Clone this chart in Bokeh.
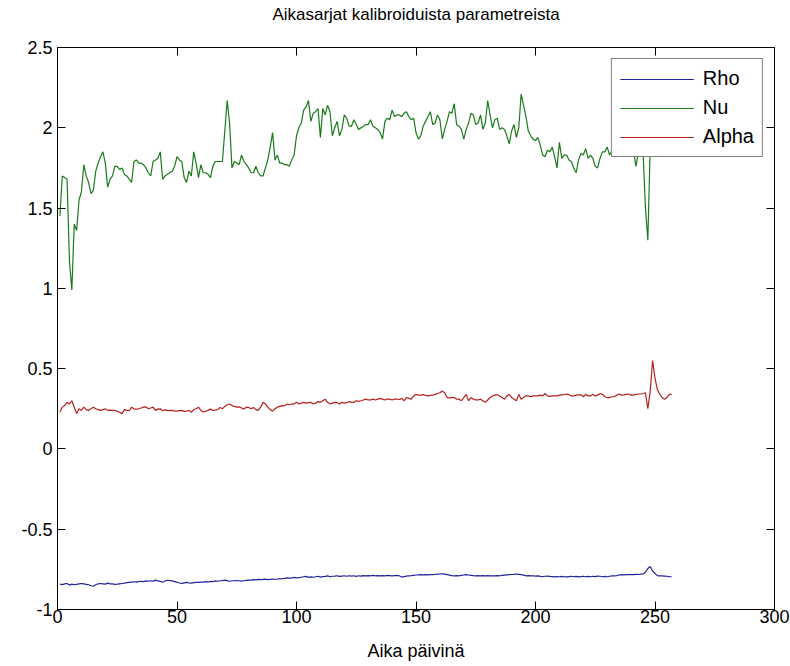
from bokeh.plotting import figure
from bokeh.models import Range1d, FixedTicker, LinearAxis, Legend, LegendItem
from bokeh.embed import file_html
from bokeh.resources import INLINE

# Daily calibrated parameter values
days = list(range(1, 258))

rho = [
    -0.842, -0.845, -0.840, -0.838, -0.848, -0.842, -0.846, -0.843, -0.840, -0.838,
    -0.840, -0.843, -0.846, -0.852, -0.855, -0.846, -0.840, -0.838, -0.840, -0.842,
    -0.836, -0.840, -0.841, -0.843, -0.842, -0.840, -0.838, -0.836, -0.833, -0.831,
    -0.829, -0.827, -0.830, -0.826, -0.824, -0.826, -0.822, -0.824, -0.821, -0.823,
    -0.817, -0.822, -0.825, -0.830, -0.822, -0.818, -0.820, -0.822, -0.826, -0.830,
    -0.835, -0.837, -0.834, -0.831, -0.835, -0.836, -0.833, -0.831, -0.831, -0.829,
    -0.830, -0.826, -0.829, -0.825, -0.826, -0.822, -0.824, -0.821, -0.820, -0.817,
    -0.820, -0.824, -0.821, -0.821, -0.820, -0.821, -0.823, -0.821, -0.819, -0.817,
    -0.817, -0.814, -0.815, -0.812, -0.814, -0.812, -0.811, -0.814, -0.812, -0.810,
    -0.813, -0.810, -0.809, -0.808, -0.806, -0.803, -0.805, -0.804, -0.800, -0.803,
    -0.802, -0.799, -0.796, -0.794, -0.800, -0.797, -0.799, -0.796, -0.793, -0.798,
    -0.795, -0.794, -0.791, -0.796, -0.793, -0.792, -0.790, -0.794, -0.792, -0.790,
    -0.793, -0.790, -0.792, -0.790, -0.794, -0.790, -0.792, -0.789, -0.791, -0.789,
    -0.790, -0.788, -0.790, -0.789, -0.791, -0.789, -0.790, -0.788, -0.789, -0.790,
    -0.789, -0.788, -0.790, -0.798, -0.795, -0.792, -0.790, -0.789, -0.787, -0.785,
    -0.784, -0.783, -0.784, -0.783, -0.784, -0.783, -0.783, -0.782, -0.780, -0.779,
    -0.778, -0.780, -0.783, -0.786, -0.789, -0.790, -0.789, -0.790, -0.788, -0.785,
    -0.783, -0.785, -0.787, -0.789, -0.790, -0.789, -0.790, -0.789, -0.790, -0.789,
    -0.790, -0.791, -0.790, -0.789, -0.790, -0.788, -0.786, -0.784, -0.783, -0.782,
    -0.781, -0.779, -0.781, -0.783, -0.786, -0.790, -0.789, -0.791, -0.790, -0.792,
    -0.791, -0.794, -0.796, -0.793, -0.792, -0.794, -0.795, -0.797, -0.795, -0.796,
    -0.794, -0.796, -0.797, -0.795, -0.793, -0.796, -0.794, -0.797, -0.795, -0.793,
    -0.796, -0.794, -0.796, -0.793, -0.795, -0.792, -0.793, -0.796, -0.794, -0.796,
    -0.793, -0.791, -0.790, -0.789, -0.785, -0.783, -0.784, -0.783, -0.782, -0.783,
    -0.783, -0.781, -0.782, -0.780, -0.779, -0.768, -0.745, -0.732, -0.760, -0.776,
    -0.789, -0.790, -0.791, -0.792, -0.793, -0.795, -0.796,
]

nu = [
    1.45, 1.70, 1.69, 1.68, 1.17, 0.99, 1.40, 1.36, 1.55, 1.60,
    1.77, 1.70, 1.66, 1.59, 1.61, 1.73, 1.78, 1.82, 1.85, 1.78,
    1.63, 1.68, 1.70, 1.76, 1.76, 1.74, 1.75, 1.71, 1.70, 1.68,
    1.66, 1.79, 1.80, 1.78, 1.78, 1.77, 1.75, 1.72, 1.70, 1.79,
    1.80, 1.81, 1.85, 1.68, 1.70, 1.71, 1.72, 1.73, 1.76, 1.82,
    1.80, 1.79, 1.69, 1.66, 1.73, 1.70, 1.85, 1.78, 1.69, 1.77,
    1.72, 1.72, 1.71, 1.69, 1.76, 1.79, 1.79, 1.79, 1.79, 1.98,
    2.17, 2.03, 1.75, 1.79, 1.78, 1.77, 1.83, 1.79, 1.77, 1.75,
    1.72, 1.72, 1.76, 1.72, 1.70, 1.70, 1.75, 1.80, 1.88, 1.97,
    1.80, 1.83, 1.78, 1.78, 1.77, 1.77, 1.76, 1.80, 1.83, 1.95,
    2.00, 2.03, 2.11, 2.13, 2.17, 2.04, 2.09, 2.10, 2.12, 1.94,
    2.12, 2.08, 2.14, 2.10, 1.95, 2.00, 2.04, 1.95, 1.99, 2.08,
    2.06, 2.01, 2.01, 2.05, 2.02, 1.99, 2.00, 2.01, 2.02, 2.02,
    2.05, 2.01, 2.00, 1.99, 1.97, 1.93, 2.04, 2.06, 2.05, 2.11,
    2.07, 2.08, 2.08, 2.07, 2.09, 2.10, 2.07, 2.05, 2.06, 1.97,
    1.93, 1.95, 2.01, 2.04, 2.07, 2.10, 2.02, 2.03, 2.08, 2.05,
    1.93, 1.99, 2.04, 2.10, 2.09, 2.15, 2.02, 2.01, 1.99, 1.93,
    1.99, 2.03, 2.09, 2.08, 2.02, 2.03, 2.08, 1.99, 2.03, 2.17,
    2.08, 2.00, 2.05, 2.06, 1.99, 2.00, 1.99, 1.95, 1.90, 1.98,
    2.02, 1.94, 2.00, 2.21, 2.14, 2.07, 1.98, 1.95, 1.93, 1.92,
    1.94, 1.89, 1.83, 1.82, 1.86, 1.85, 1.88, 1.82, 1.75, 1.91,
    1.81, 1.83, 1.83, 1.80, 1.79, 1.75, 1.72, 1.80, 1.84, 1.83,
    1.87, 1.81, 1.83, 1.81, 1.76, 1.75, 1.81, 1.85, 1.85, 1.88,
    1.83, 1.86, 1.90, 1.87, 1.92, 1.88, 1.85, 1.91, 1.87, 1.84,
    1.86, 1.76, 1.84, 1.88, 1.85, 1.50, 1.30, 1.88, 1.95, 2.02,
    1.92, 1.88, 1.90, 1.93, 1.88, 1.91, 1.89,
]

alpha = [
    0.23, 0.26, 0.27, 0.29, 0.28, 0.30, 0.26, 0.22, 0.25, 0.24,
    0.26, 0.245, 0.24, 0.25, 0.26, 0.25, 0.245, 0.24, 0.245, 0.25,
    0.24, 0.242, 0.24, 0.238, 0.235, 0.228, 0.22, 0.245, 0.24, 0.238,
    0.26, 0.25, 0.248, 0.25, 0.255, 0.26, 0.262, 0.25, 0.255, 0.26,
    0.24, 0.248, 0.25, 0.238, 0.243, 0.24, 0.238, 0.24, 0.236, 0.235,
    0.238, 0.24, 0.234, 0.236, 0.24, 0.228, 0.245, 0.25, 0.26, 0.24,
    0.23, 0.235, 0.24, 0.248, 0.24, 0.242, 0.245, 0.258, 0.25, 0.265,
    0.275, 0.28, 0.27, 0.265, 0.26, 0.262, 0.255, 0.248, 0.26, 0.258,
    0.25, 0.258, 0.245, 0.24, 0.26, 0.29, 0.28, 0.26, 0.245, 0.235,
    0.25, 0.26, 0.265, 0.27, 0.268, 0.28, 0.275, 0.28, 0.28, 0.29,
    0.28, 0.285, 0.29, 0.285, 0.288, 0.29, 0.28, 0.285, 0.295, 0.29,
    0.30, 0.31, 0.29, 0.28, 0.285, 0.29, 0.288, 0.28, 0.29, 0.285,
    0.288, 0.295, 0.29, 0.29, 0.30, 0.296, 0.30, 0.305, 0.31, 0.305,
    0.305, 0.31, 0.305, 0.31, 0.315, 0.31, 0.305, 0.31, 0.31, 0.305,
    0.31, 0.31, 0.308, 0.315, 0.30, 0.32, 0.315, 0.31, 0.33, 0.34,
    0.335, 0.335, 0.338, 0.333, 0.33, 0.333, 0.335, 0.34, 0.345, 0.35,
    0.36, 0.35, 0.32, 0.318, 0.32, 0.32, 0.31, 0.31, 0.30, 0.32,
    0.34, 0.30, 0.32, 0.31, 0.305, 0.305, 0.31, 0.30, 0.29, 0.305,
    0.32, 0.33, 0.335, 0.338, 0.33, 0.32, 0.31, 0.33, 0.34, 0.32,
    0.31, 0.30, 0.34, 0.31, 0.32, 0.33, 0.33, 0.325, 0.33, 0.33,
    0.33, 0.335, 0.33, 0.345, 0.33, 0.327, 0.33, 0.33, 0.33, 0.335,
    0.337, 0.338, 0.342, 0.338, 0.33, 0.33, 0.335, 0.337, 0.337, 0.325,
    0.34, 0.33, 0.33, 0.34, 0.33, 0.335, 0.345, 0.34, 0.325, 0.32,
    0.32, 0.325, 0.325, 0.335, 0.342, 0.335, 0.337, 0.34, 0.342, 0.335,
    0.335, 0.34, 0.342, 0.342, 0.345, 0.35, 0.25, 0.36, 0.55, 0.44,
    0.37, 0.34, 0.32, 0.31, 0.32, 0.34, 0.34,
]

series_names = ["Rho", "Nu", "Alpha"]
series_colors = ["#23239a", "#1b7a1b", "#b82020"]

x_ticks = [0, 50, 100, 150, 200, 250, 300]
y_ticks = [-1, -0.5, 0, 0.5, 1, 1.5, 2, 2.5]
y_tick_labels = ["-1", "-0.5", "0", "0.5", "1", "1.5", "2", "2.5"]

title_text = "Aikasarjat kalibroiduista parametreista"
x_label = "Aika päivinä"

FONT = "Liberation Sans"

p = figure(
    width=790, height=666,
    output_backend="svg", toolbar_location=None,
    x_range=Range1d(0, 300), y_range=Range1d(-1, 2.5),
    min_border_left=57, min_border_right=16,
    min_border_top=47, min_border_bottom=57,
)
p.background_fill_color = "white"
p.border_fill_color = "white"
p.outline_line_color = "black"
p.xgrid.visible = False
p.ygrid.visible = False


def style_axis(ax, ticks, show_labels):
    ax.ticker = FixedTicker(ticks=ticks)
    ax.axis_line_color = "black"
    ax.major_tick_line_color = "black"
    ax.major_tick_in = 8
    ax.major_tick_out = 0
    ax.minor_tick_line_color = None
    ax.major_label_text_font = FONT
    ax.major_label_text_color = "black"
    if show_labels:
        ax.major_label_text_font_size = "18px"
        ax.major_label_standoff = 5
    else:
        # box-side axes: inward ticks only, no tick labels
        ax.major_label_text_color = None
        ax.major_label_text_font_size = "1px"
        ax.major_label_standoff = 0


xaxis = p.xaxis[0]
yaxis = p.yaxis[0]
style_axis(xaxis, x_ticks, True)
style_axis(yaxis, y_ticks, True)
yaxis.major_label_overrides = dict(zip(y_ticks, y_tick_labels))
xaxis.major_label_standoff = 0

xaxis.axis_label = x_label
xaxis.axis_label_text_font = FONT
xaxis.axis_label_text_font_size = "18px"
xaxis.axis_label_text_font_style = "normal"
xaxis.axis_label_text_color = "black"
xaxis.axis_label_standoff = 15

top_axis = LinearAxis()
right_axis = LinearAxis()
style_axis(top_axis, x_ticks, False)
style_axis(right_axis, y_ticks, False)

# the heading rides on the top box edge, centred over the frame
top_axis.axis_label = title_text
top_axis.axis_label_text_font = FONT
top_axis.axis_label_text_font_size = "17px"
top_axis.axis_label_text_font_style = "normal"
top_axis.axis_label_text_color = "black"
top_axis.axis_label_standoff = 24

p.add_layout(top_axis, "above")
p.add_layout(right_axis, "right")

renderers = []
for values, color in zip([rho, nu, alpha], series_colors):
    renderers.append(p.line(days, values, line_color=color, line_width=1.2))

legend = Legend(
    items=[LegendItem(label=n, renderers=[r]) for n, r in zip(series_names, renderers)],
    location="top_right",
)
legend.margin = 11
legend.padding = 8
legend.spacing = 6
legend.glyph_width = 74
legend.glyph_height = 20
legend.label_height = 20
legend.label_standoff = 9
legend.label_text_font = FONT
legend.label_text_font_size = "20px"
legend.label_text_color = "black"
legend.border_line_color = "black"
legend.border_line_width = 1
legend.background_fill_color = "white"
legend.background_fill_alpha = 1.0
p.add_layout(legend)

open("out.html", "w").write(file_html(p, INLINE))
